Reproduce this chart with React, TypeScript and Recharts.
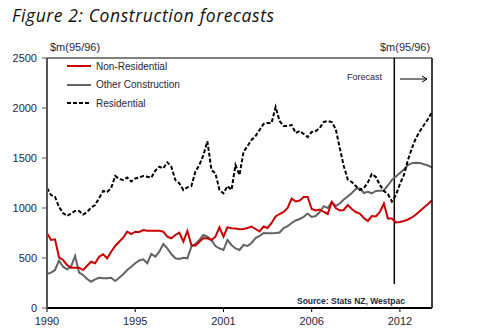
import React from "react";
import { LineChart, Line, XAxis, YAxis, ReferenceLine, Legend } from "recharts";

// quarterly, 1990 Q1 .. 2014 Q1 (index 0..96)
const nonResidential = [
  747, 680, 687, 507, 480, 430, 403, 403, 403, 380, 423, 463, 447, 513, 537, 497,
  563, 620, 663, 703, 763, 740, 763, 760, 780, 773, 773, 773, 773, 763, 713, 697,
  730, 753, 663, 770, 630, 623, 663, 697, 697, 680, 713, 807, 713, 807, 797, 795,
  788, 790, 800, 815, 790, 765, 815, 800, 850, 915, 940, 960, 1000, 1095, 1065, 1075,
  1110, 1110, 990, 975, 985, 960, 940, 1060, 1000, 975, 980, 1030, 990, 960, 945, 900,
  870, 920, 915, 960, 1045, 895, 895, 855, 860, 870, 885, 905, 935, 970, 1005, 1040,
  1078,
];

const otherConstruction = [
  340, 353, 380, 473, 413, 387, 413, 520, 353, 330, 290, 263, 287, 303, 297, 297,
  303, 270, 303, 337, 380, 413, 447, 475, 487, 447, 540, 513, 563, 640, 597, 540,
  497, 490, 503, 497, 613, 640, 680, 730, 713, 680, 620, 597, 580, 680, 630, 595,
  580, 630, 620, 650, 700, 720, 750, 748, 747, 750, 755, 800, 818, 850, 875, 890,
  912, 945, 910, 920, 960, 1018, 1000, 1060, 1020, 1045, 1085, 1115, 1150, 1190, 1197, 1150,
  1163, 1147, 1170, 1173, 1175, 1225, 1280, 1315, 1350, 1385, 1430, 1448, 1453, 1450, 1437, 1425,
  1407,
];

const residential = [
  1200, 1130, 1110, 1010, 950, 920, 945, 970, 970, 935, 960, 1005, 1030, 1100, 1170, 1160,
  1200, 1320, 1290, 1280, 1305, 1265, 1295, 1305, 1320, 1313, 1303, 1373, 1413, 1397, 1457, 1413,
  1280, 1247, 1180, 1207, 1220, 1363, 1430, 1530, 1667, 1380, 1347, 1180, 1147, 1220, 1180, 1430,
  1330, 1560, 1620, 1680, 1720, 1780, 1840, 1850, 1850, 2010, 1870, 1820, 1820, 1830, 1750, 1770,
  1740, 1710, 1760, 1770, 1800, 1860, 1870, 1860, 1790, 1600, 1420, 1285, 1260, 1220, 1180, 1200,
  1255, 1340, 1310, 1230, 1170, 1140, 1065, 1130, 1240, 1330, 1480, 1600, 1700, 1770, 1830, 1890,
  1960,
];

const xTickIndex = [0, 22, 44, 66, 88];
const xTickLabels = ["1990", "1995", "2001", "2006", "2012"];
const yTicks = [0, 500, 1000, 1500, 2000, 2500];
const forecastAt = 86.6;

const data = residential.map((r, i) => ({
  q: i,
  nonRes: nonResidential[i],
  other: otherConstruction[i],
  res: r,
}));

const series = [
  { key: "nonRes", name: "Non-Residential", color: "#cc0000", dash: undefined },
  { key: "other", name: "Other Construction", color: "#636363", dash: undefined },
  { key: "res", name: "Residential", color: "#000000", dash: "4 2" },
];

const textColor = "#1e2540";
const font = "'Liberation Sans', Arial, sans-serif";

const LegendBox = () => (
  <div style={{ fontFamily: font, fontSize: 10, color: textColor }}>
    {series.map((s) => (
      <div key={s.key} style={{ height: 18.5, display: "flex", alignItems: "center" }}>
        <svg width={26} height={4} style={{ marginRight: 4 }}>
          <line x1={1} y1={2} x2={25} y2={2} stroke={s.color} strokeWidth={2} strokeDasharray={s.dash} />
        </svg>
        <span>{s.name}</span>
      </div>
    ))}
  </div>
);

export default function App() {
  const tick = { fontSize: 11, fill: textColor, fontFamily: font };
  return (
    <div style={{ position: "fixed", left: 0, top: 0, width: 500, height: 335, background: "#fff" }}>
      <div
        style={{
          position: "absolute",
          left: 12,
          top: 5,
          fontFamily: "'Open Sans', sans-serif",
          fontStyle: "italic",
          fontSize: 17.5,
          letterSpacing: 0.6,
          lineHeight: "20px",
          color: "#111",
        }}
      >
        Figure 2: Construction forecasts
      </div>
      <div style={{ position: "absolute", left: 50, top: 41, fontFamily: font, fontSize: 11, color: textColor }}>
        $m(95/96)
      </div>
      <div style={{ position: "absolute", left: 380, top: 41, fontFamily: font, fontSize: 11, color: textColor }}>
        $m(95/96)
      </div>
      <div style={{ position: "absolute", left: 347, top: 72, fontFamily: font, fontSize: 9, color: textColor }}>
        Forecast
      </div>
      <svg style={{ position: "absolute", left: 398, top: 74 }} width={32} height={10}>
        <line x1={2} y1={5} x2={29} y2={5} stroke="#000" strokeWidth={1} />
        <polyline points="24,2 29,5 24,8" fill="none" stroke="#000" strokeWidth={1} />
      </svg>
      <div
        style={{
          position: "absolute",
          left: 297,
          top: 296,
          fontFamily: font,
          fontSize: 8.5,
          fontWeight: "bold",
          color: textColor,
        }}
      >
        Source: Stats NZ, Westpac
      </div>
      <div style={{ position: "absolute", left: 0, top: 0 }}>
        <LineChart width={500} height={335} data={data} margin={{ top: 58, right: 0, bottom: 0, left: 0 }}>
          <XAxis
            dataKey="q"
            type="number"
            domain={[0, 96]}
            ticks={xTickIndex}
            tickFormatter={(v: number) => xTickLabels[xTickIndex.indexOf(v)]}
            height={27}
            tick={tick}
            tickSize={4}
            tickMargin={5}
            axisLine={{ stroke: "#000", strokeWidth: 2 }}
            tickLine={{ stroke: "#000" }}
          />
          <YAxis
            yAxisId="left"
            orientation="left"
            domain={[0, 2500]}
            ticks={yTicks}
            width={47}
            tick={tick}
            tickSize={5}
            tickMargin={5}
            axisLine={{ stroke: "#555", strokeWidth: 2 }}
            tickLine={{ stroke: "#555" }}
          />
          <YAxis
            yAxisId="right"
            orientation="right"
            domain={[0, 2500]}
            ticks={yTicks}
            width={68}
            tick={{ ...tick, textAnchor: "start" }}
            tickSize={5}
            tickMargin={6}
            axisLine={{ stroke: "#000", strokeWidth: 1.5 }}
            tickLine={{ stroke: "#000" }}
          />
          <ReferenceLine yAxisId="left" y={2500} stroke="#000" strokeWidth={1} />
          <ReferenceLine
            yAxisId="left"
            segment={[
              { x: forecastAt, y: 240 },
              { x: forecastAt, y: 2500 },
            ]}
            stroke="#000"
            strokeWidth={1.5}
          />
          <Line yAxisId="left" dataKey="other" name="Other Construction" stroke="#636363" strokeWidth={2} dot={false} isAnimationActive={false} />
          <Line yAxisId="left" dataKey="nonRes" name="Non-Residential" stroke="#cc0000" strokeWidth={2} dot={false} isAnimationActive={false} />
          <Line yAxisId="left" dataKey="res" name="Residential" stroke="#000" strokeWidth={2} strokeDasharray="4 2" dot={false} isAnimationActive={false} />
          <Legend
            content={() => <LegendBox />}
            layout="vertical"
            verticalAlign="middle"
            align="center"
            wrapperStyle={{ position: "absolute", left: 66, top: 57, width: 160 }}
          />
        </LineChart>
      </div>
    </div>
  );
}
